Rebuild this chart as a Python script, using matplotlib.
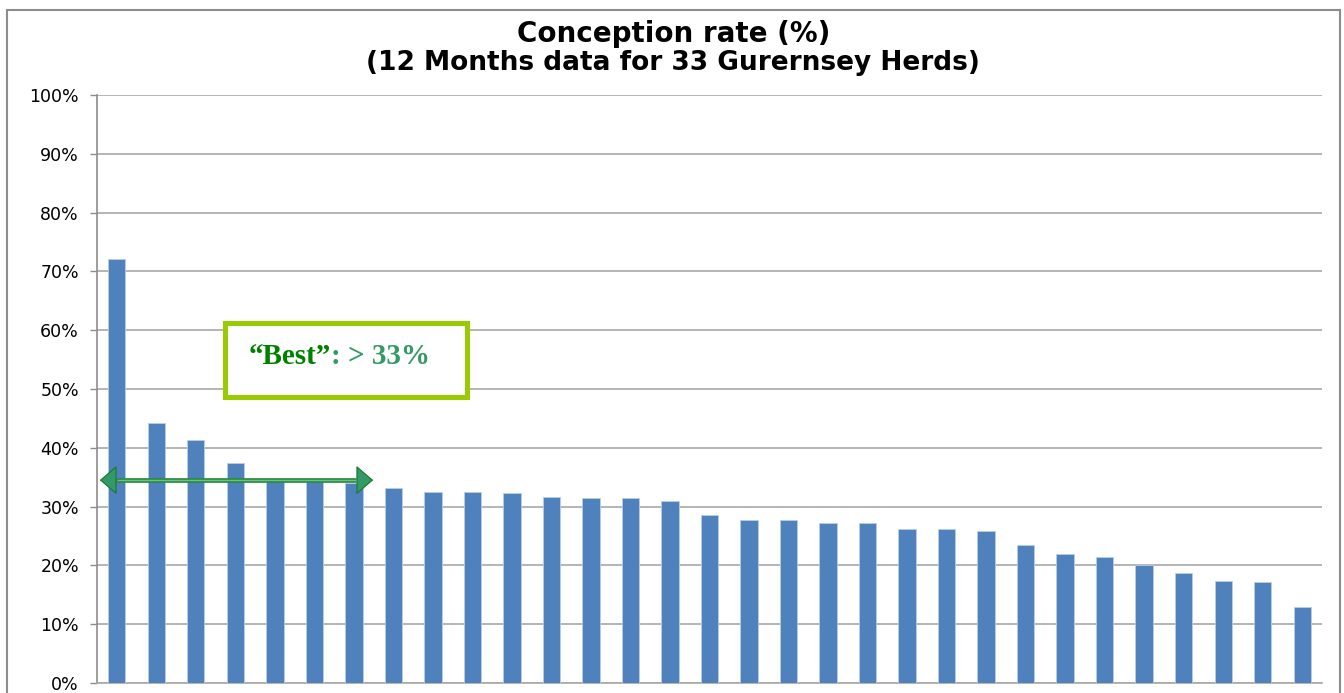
import matplotlib
matplotlib.use("Agg")
import matplotlib.pyplot as plt
from matplotlib.patches import Rectangle, FancyArrowPatch
from matplotlib.ticker import PercentFormatter, MultipleLocator

# ---- data ----
herds = list(range(1, 32))
conception_rate = [72.1, 44.3, 41.3, 37.4, 34.4, 34.4, 34.0, 33.2, 32.5, 32.5,
                   32.3, 31.7, 31.5, 31.5, 31.0, 28.5, 27.7, 27.7, 27.2, 27.2,
                   26.2, 26.2, 25.9, 23.4, 21.9, 21.4, 20.0, 18.7, 17.3, 17.1,
                   13.0]
title_line1 = "Conception rate (%)"
title_line2 = "(12 Months data for 33 Gurernsey Herds)"
best_label = "\u201cBest\u201d"
best_rest = ": > 33%"
best_threshold_y = 34.5

W, H = 1344, 693
fig = plt.figure(figsize=(W / 100, H / 100), dpi=100)
fig.patch.set_facecolor("white")

# outer chart border
fig.patches.append(Rectangle((7 / W, -0.05), (1340 - 7) / W, (H - 10) / H + 0.05,
                             transform=fig.transFigure, fill=False,
                             edgecolor="#8c8c8c", lw=1.5))

ax = fig.add_axes([97 / W, 10 / H, 1225 / W, 588 / H])
x = list(range(len(herds)))
ax.bar(x, conception_rate, width=0.44, color="#4f81bd",
       edgecolor="#b9cde5", linewidth=0.6, zorder=3)

ax.set_xlim(-0.5, len(herds) - 0.5)
ax.set_ylim(0, 100)
ax.yaxis.set_major_locator(MultipleLocator(10))
ax.yaxis.set_major_formatter(PercentFormatter(decimals=0))
ax.set_xticks([])
ax.grid(axis="y", color="#a8a8a8", lw=1.2, zorder=0)
for s in ["top", "right"]:
    ax.spines[s].set_visible(False)
ax.spines["left"].set_color("#8c8c8c")
ax.spines["bottom"].set_color("#a8a8a8")
ax.spines["left"].set_linewidth(1.2)
ax.spines["bottom"].set_linewidth(1.2)
ax.tick_params(axis="y", direction="out", length=5, width=1, color="#8c8c8c",
               pad=8, labelsize=12.5, labelcolor="black")
for lab in ax.get_yticklabels():
    lab.set_fontfamily("DejaVu Sans")

# titles
fig.text(0.501, 1 - 41.5 / H, title_line1, ha="center", va="baseline",
         fontsize=20, fontweight="bold", family="DejaVu Sans")
fig.text(0.501, 1 - 70 / H, title_line2, ha="center", va="baseline",
         fontsize=19, fontweight="bold", family="DejaVu Sans")

# annotation box
bx0 = (225 - 97) / 1225
bx1 = (467 - 97) / 1225
by0 = (683 - 397) / 588
by1 = (683 - 323) / 588
ax.add_patch(Rectangle((bx0, by0), bx1 - bx0, by1 - by0, transform=ax.transAxes,
                       fill=True, facecolor="white", edgecolor="#99cc00",
                       lw=3.6, zorder=5, clip_on=False))
t1 = ax.text((249 - 97) / 1225, (683 - 370) / 588, best_label, transform=ax.transAxes,
             ha="left", va="bottom", fontsize=21, fontweight="bold",
             family="Liberation Serif", color="#008000", zorder=6)
ax.annotate(best_rest, xy=(1, 0), xycoords=t1, ha="left", va="bottom",
            fontsize=21, fontweight="bold", family="Liberation Serif",
            color="#339966", zorder=6)

# double-headed block arrow: shaft (dark edges, light core) + filled heads
arr = FancyArrowPatch((-0.43, best_threshold_y), (6.49, best_threshold_y),
                      arrowstyle="<|-|>,head_length=1.1,head_width=0.95",
                      mutation_scale=10, lw=0.9, edgecolor="#1f7a35",
                      facecolor="#339966", shrinkA=0, shrinkB=0,
                      zorder=9, clip_on=False)
ax.add_patch(arr)
ax.plot([0.0, 6.05], [best_threshold_y, best_threshold_y], color="#2a8a3c",
        lw=3.4, solid_capstyle="butt", zorder=10, clip_on=False)
ax.plot([0.0, 6.05], [best_threshold_y, best_threshold_y], color="#6cc08a",
        lw=1.0, solid_capstyle="butt", zorder=11, clip_on=False)

fig.savefig("out.png", dpi=100, facecolor="white")
